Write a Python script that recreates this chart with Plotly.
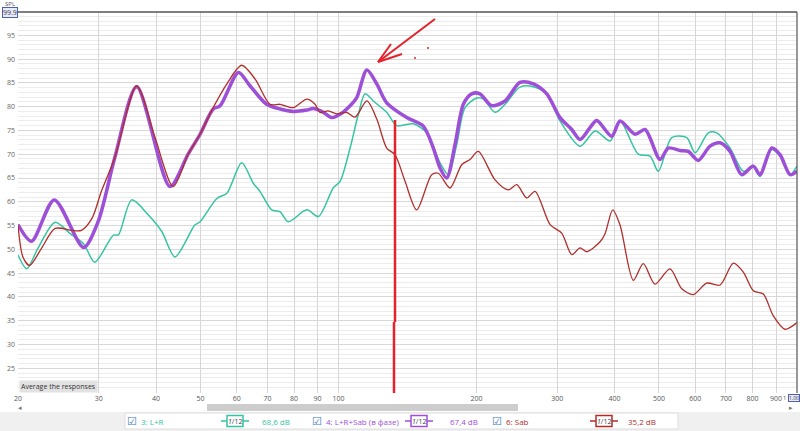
import plotly.graph_objects as go

# ---------------- data ----------------
freq_lr = [20, 20.9, 22.1, 24.1, 26.0, 27.8, 29.4, 32.3, 33.1, 35.4, 38.5, 41.2, 44.0, 48.6, 49.9,
           54.3, 57.1, 61.5, 65.2, 67.4, 71.5, 74.6, 77.7, 85.3, 90.4, 97.4, 100.8, 106.0, 110.5,
           114.3, 119.1, 127.4, 134.0, 145.6, 155.8, 166.5, 173.6, 181.1, 188.8, 200.2, 207.0,
           219.5, 230.8, 248.8, 266.0, 284.6, 304.2, 336.4, 362.9, 391.1, 411.2, 450.8, 478.0,
           498.4, 533.2, 574.8, 599.4, 640.6, 668.2, 714.4, 763.8, 803.0, 830.4, 880.6, 918.2,
           965.6, 1000]
db_lr = [48.8, 45.9, 50.2, 55.7, 53.3, 51.2, 47.3, 53.0, 53.0, 60.4, 57.2, 53.7, 48.4, 55.1, 55.8,
         60.7, 61.8, 68.2, 63.9, 62.2, 58.3, 57.9, 55.8, 58.3, 56.9, 62.9, 64.3, 71.3, 78.4,
         82.7, 81.2, 78.8, 76.0, 76.4, 74.5, 68.2, 65.7, 72.1, 79.8, 81.8, 81.6,
         78.8, 80.5, 84.1, 84.2, 82.7, 77.0, 71.7, 74.9, 72.8, 77.0, 70.0, 69.6,
         66.4, 73.5, 73.5, 70.3, 74.5, 74.5, 71.3, 66.4, 67.5, 65.3, 71.0, 69.6,
         65.7, 67.5]

freq_lrs = [20, 21.4, 24.0, 27.8, 29.9, 32.5, 36.3, 42.9, 47.0, 49.9, 53.3, 55.2, 60.5, 64.1,
            69.7, 74.6, 79.7, 85.3, 88.1, 92.7, 96.7, 100.8, 106.0, 109.6, 115.3, 121.2, 127.4,
            140.9, 153.1, 161.0, 166.5, 172.2, 179.6, 187.2, 195.2, 203.5, 215.8, 230.8, 248.8,
            266.0, 284.6, 304.2, 322.6, 336.4, 353.7, 365.8, 394.4, 411.2, 443.4, 466.3, 502.6,
            524.0, 555.8, 579.4, 609.2, 646.2, 679.4, 714.4, 757.6, 803.0, 830.4, 880.6, 918.2,
            965.6, 1000]
db_lrs = [55.2, 51.7, 60.4, 50.4, 55.8, 69.2, 84.2, 63.2, 70.0, 74.2, 79.5, 80.2, 87.2, 84.4,
          80.5, 79.5, 79.0, 79.3, 79.6, 78.8, 77.7, 78.4, 80.2, 81.9, 87.7, 84.8, 80.8,
          77.7, 75.9, 71.3, 67.1, 65.0, 72.1, 80.5, 82.7, 82.7, 80.2, 81.2, 85.1,
          84.8, 82.7, 77.7, 75.2, 73.1, 75.6, 77.1, 73.8, 77.0, 74.2, 75.2, 68.9,
          71.3, 70.8, 70.6, 68.7, 71.7, 72.4, 70.6, 65.7, 67.5, 65.7, 71.3, 69.9,
          65.7, 66.4]

freq_sab = [20, 20.5, 21.2, 22.5, 24.1, 26.2, 27.5, 29.0, 30.4, 32.5, 36.3, 39.8, 43.6, 47.0,
            49.9, 53.3, 57.1, 61.5, 65.8, 70.9, 74.6, 79.7, 85.3, 88.9, 91.1, 95.0, 99.1, 104.2,
            108.7, 115.3, 121.2, 127.4, 132.8, 139.7, 148.1, 159.7, 165.1, 175.1, 185.7, 193.6,
            201.8, 219.5, 234.6, 244.8, 257.4, 268.4, 289.4, 306.8, 322.6, 336.4, 347.8, 372.0,
            381.4, 396.4, 411.2, 439.6, 462.2, 490.2, 528.4, 560.6, 594.2, 635.4, 679.4, 726.4,
            763.8, 803.0, 844.4, 888.0, 941.6, 1000]
db_sab = [55.1, 48.4, 46.6, 50.2, 54.4, 54.0, 54.0, 56.5, 62.2, 69.2, 84.4, 73.5, 63.2, 70.0,
          74.2, 79.8, 84.8, 88.7, 85.8, 80.5, 80.5, 79.8, 81.6, 80.5, 78.8, 79.1, 78.5, 78.8,
          77.8, 81.2, 77.4, 71.3, 69.9, 64.3, 58.3, 65.7, 66.0, 62.9, 67.8, 68.9,
          70.6, 64.6, 62.5, 63.6, 60.8, 62.2, 55.2, 53.4, 48.9, 50.3, 49.5, 51.6,
          53.3, 58.3, 55.1, 43.5, 47.0, 42.7, 45.9, 41.7, 40.5, 42.9, 42.5, 47.1,
          45.2, 41.3, 40.6, 36.0, 33.2, 34.6]

x_tick_vals = [20, 30, 40, 50, 60, 70, 80, 90, 100, 200, 300, 400, 500, 600, 700, 800, 900]
x_tick_text = [str(v) for v in x_tick_vals]
y_tick_vals = [25, 30, 35, 40, 45, 50, 55, 60, 65, 70, 75, 80, 85, 90, 95]

legend_names = ["3: L+R", "4: L+R+Sab (в фазе)", "6: Sab"]
legend_levels = ["68,6 dB", "67,4 dB", "35,2 dB"]

# ---------------- styling ----------------
W, H = 800, 431
L, R, T, B = 18, 3, 12, 38
PW, PH = W - L - R, H - T - B
C_TEAL = "#35c4a2"
C_PURP = "#9e4fd8"
C_RED = "#b02e2a"
FONT = "Open Sans"


def px(x):
    return (x - L) / PW


def py(y):
    return (H - B - y) / PH


fig = go.Figure()
fig.add_trace(go.Scatter(x=freq_lr, y=db_lr, mode="lines", name=legend_names[0],
                         line=dict(color=C_TEAL, width=1.5, shape="spline", smoothing=0.8)))
fig.add_trace(go.Scatter(x=freq_lrs, y=db_lrs, mode="lines", name=legend_names[1],
                         line=dict(color=C_PURP, width=3.5, shape="spline", smoothing=0.8)))
fig.add_trace(go.Scatter(x=freq_sab, y=db_sab, mode="lines", name=legend_names[2],
                         line=dict(color=C_RED, width=1.3, shape="spline", smoothing=0.8)))

shapes = []
annotations = []

# plot frame lines
shapes.append(dict(type="line", xref="paper", yref="paper", x0=0, x1=1, y0=1, y1=1,
                   line=dict(color="#555555", width=1.5)))
shapes.append(dict(type="line", xref="paper", yref="paper", x0=1, x1=1, y0=0, y1=1,
                   line=dict(color="#555555", width=1.2)))
shapes.append(dict(type="line", xref="paper", yref="paper", x0=px(338.5), x1=px(338.5), y0=0, y1=1,
                   line=dict(color="#b8b8b8", width=1), layer="below"))

# bottom strip background
shapes.append(dict(type="rect", xref="paper", yref="paper", x0=px(0), x1=px(800), y0=py(412), y1=py(431),
                   fillcolor="#f0f0f0", line=dict(width=0), layer="below"))
# scrollbar
shapes.append(dict(type="rect", xref="paper", yref="paper", x0=px(207), x1=px(518), y0=py(411), y1=py(404),
                   fillcolor="#cdcdcd", line=dict(width=0)))
annotations.append(dict(xref="paper", yref="paper", x=px(20), y=py(407), text="◂", showarrow=False,
                        font=dict(size=7, color="#777"), xanchor="center", yanchor="middle"))
annotations.append(dict(xref="paper", yref="paper", x=px(791), y=py(407), text="▸", showarrow=False,
                        font=dict(size=7, color="#777"), xanchor="center", yanchor="middle"))

# legend panel
shapes.append(dict(type="rect", xref="paper", yref="paper", x0=px(125), x1=px(678), y0=py(413), y1=py(429),
                   fillcolor="white", line=dict(color="#dddddd", width=1)))
leg_cols = [C_TEAL, C_PURP, C_RED]
box_x = [132, 317, 497]
sym_x = [235, 419, 604]
lvl_x = [292, 480, 658]
for i in range(3):
    c = leg_cols[i]
    annotations.append(dict(xref="paper", yref="paper", x=px(box_x[i]), y=py(421), text="☑", showarrow=False,
                            font=dict(size=11, color="#3b78c8", family="DejaVu Sans"),
                            xanchor="center", yanchor="middle"))
    annotations.append(dict(xref="paper", yref="paper", x=px(box_x[i] + 7), y=py(421), text=legend_names[i],
                            showarrow=False, font=dict(size=8, color=c, family=FONT),
                            xanchor="left", yanchor="middle"))
    shapes.append(dict(type="line", xref="paper", yref="paper", x0=px(sym_x[i] - 14), x1=px(sym_x[i] + 14),
                       y0=py(421), y1=py(421), line=dict(color=c, width=1.5)))
    shapes.append(dict(type="rect", xref="paper", yref="paper", x0=px(sym_x[i] - 8), x1=px(sym_x[i] + 8),
                       y0=py(415.5), y1=py(426.5), fillcolor="white", line=dict(color=c, width=1.5)))
    annotations.append(dict(xref="paper", yref="paper", x=px(sym_x[i]), y=py(421), text="<i>1</i>/12",
                            showarrow=False, font=dict(size=7, color="#444", family=FONT),
                            xanchor="center", yanchor="middle"))
    annotations.append(dict(xref="paper", yref="paper", x=px(lvl_x[i]), y=py(421), text=legend_levels[i],
                            showarrow=False, font=dict(size=8, color=c, family=FONT),
                            xanchor="right", yanchor="middle"))

# "Average the responses" button
annotations.append(dict(xref="paper", yref="paper", x=px(19), y=py(386), text="Average the responses",
                        showarrow=False, font=dict(size=7, color="#333", family=FONT),
                        xanchor="left", yanchor="middle", bgcolor="#e2e2e2", borderpad=1))

# SPL label and top box
annotations.append(dict(xref="paper", yref="paper", x=px(10), y=py(4), text="SPL", showarrow=False,
                        font=dict(size=6, color="#555", family=FONT), xanchor="center", yanchor="middle"))
annotations.append(dict(xref="paper", yref="paper", x=px(10), y=py(12), text="99.9", showarrow=False,
                        font=dict(size=7, color="#334", family=FONT), xanchor="center", yanchor="middle",
                        bgcolor="#e8ecf8", bordercolor="#5060b0", borderwidth=1, borderpad=0))
# right-end x label box
annotations.append(dict(xref="paper", yref="paper", x=px(784), y=py(398), text="1", showarrow=False,
                        font=dict(size=6, color="#555", family=FONT), xanchor="center", yanchor="middle"))
annotations.append(dict(xref="paper", yref="paper", x=px(800), y=py(398), text="1.00", showarrow=False,
                        font=dict(size=5, color="#334", family=FONT), xanchor="right", yanchor="middle",
                        bgcolor="#e8ecf8", bordercolor="#5060b0", borderwidth=1, borderpad=0))

# red hand-drawn marks
RED = "#e5212b"
shapes.append(dict(type="line", xref="paper", yref="paper", x0=px(395), x1=px(395), y0=py(120), y1=py(322),
                   line=dict(color=RED, width=2.5)))
shapes.append(dict(type="line", xref="paper", yref="paper", x0=px(394), x1=px(394), y0=py(322), y1=py(393),
                   line=dict(color=RED, width=2.5)))
shapes.append(dict(type="line", xref="paper", yref="paper", x0=px(435), x1=px(378), y0=py(19), y1=py(62),
                   line=dict(color=RED, width=2)))
shapes.append(dict(type="line", xref="paper", yref="paper", x0=px(378), x1=px(402), y0=py(62), y1=py(54),
                   line=dict(color=RED, width=2)))
shapes.append(dict(type="line", xref="paper", yref="paper", x0=px(378), x1=px(391), y0=py(62), y1=py(44),
                   line=dict(color=RED, width=2)))
for (dx, dy) in [(428, 48), (415, 58)]:
    shapes.append(dict(type="circle", xref="paper", yref="paper", x0=px(dx - 1), x1=px(dx + 1),
                       y0=py(dy + 1), y1=py(dy - 1), fillcolor=RED, line=dict(width=0)))

fig.update_layout(
    width=W, height=H,
    margin=dict(l=L, r=R, t=T, b=B),
    paper_bgcolor="white", plot_bgcolor="white",
    showlegend=False,
    font=dict(family=FONT, size=8, color="#555"),
    shapes=shapes, annotations=annotations,
    xaxis=dict(type="log", range=[1.30103, 3.0], tickvals=x_tick_vals, ticktext=x_tick_text,
               showgrid=True, gridcolor="#d6d6d6", gridwidth=1, zeroline=False, showline=False,
               ticks="", tickfont=dict(size=7, color="#555")),
    yaxis=dict(range=[19.8, 99.9], tickvals=y_tick_vals, showgrid=True, gridcolor="#d8d8d8",
               gridwidth=1, zeroline=False, showline=False, ticks="", ticklabelstandoff=2,
               tickfont=dict(size=7, color="#666"),
               minor=dict(dtick=1, showgrid=True, gridcolor="#ececec", gridwidth=1)),
)

fig.write_html("out.html", config=dict(displayModeBar=False),
               post_script="document.body.style.margin='0px';document.body.style.overflow='hidden';")
